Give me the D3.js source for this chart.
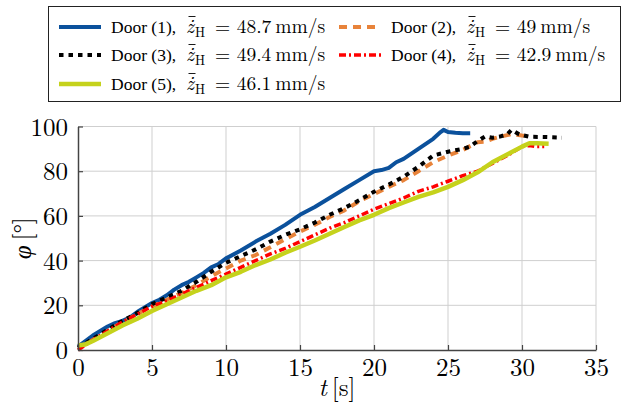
<!DOCTYPE html>
<html>
<head>
<meta charset="utf-8">
<script src="https://cdn.jsdelivr.net/npm/d3@7"></script>
<style>
  body { margin: 0; background: #fff; }
  svg { display: block; }
</style>
</head>
<body>
<svg id="chart" width="622" height="414"></svg>
<script>
// door angle phi [deg] over time t [s]
var door1_t   = [0, 0.5, 1, 1.5, 2, 2.5, 3, 3.5, 4, 4.5, 5, 5.5, 6, 6.5, 7, 7.5, 8, 8.5, 9, 9.5, 10, 11, 12, 13, 14, 15, 16, 17, 18, 19, 20, 20.5, 21, 21.5, 22, 23, 24, 24.5, 24.7, 25, 25.5, 26, 26.5];
var door1_phi = [1.5, 4, 6.5, 8.5, 10.5, 12, 13, 14.5, 17, 19, 21, 22.5, 24.5, 27, 29, 30.5, 32.5, 34.5, 37, 38.5, 41, 44.5, 48.5, 52, 56, 60.5, 64, 68, 72, 76, 80, 80.5, 81.5, 84, 85.5, 90, 94.5, 97.5, 98.5, 97.5, 97.2, 97, 97];

var door2_t   = [0, 1, 2, 3, 4, 5, 6, 7, 8, 9, 10, 11, 12, 13, 14, 15, 16, 17, 18, 19, 20, 21, 22, 23, 24, 25, 26, 27, 27.5, 28, 28.5, 29.3, 30, 30.5];
var door2_phi = [1, 4.5, 8.5, 12.5, 16, 19.5, 22.5, 25.5, 29, 33, 36.5, 40, 42.5, 46, 49.5, 53, 56, 59.5, 62.5, 66.5, 69.8, 73, 76, 80, 84, 87, 89.5, 93, 93.2, 94.5, 95.4, 96.6, 96, 95.7];

var door3_t   = [0, 1, 2, 3, 4, 5, 6, 7, 8, 9, 10, 11, 12, 13, 14, 15, 16, 17, 18, 19, 20, 21, 22, 23, 24, 25, 26, 26.5, 27, 27.5, 28, 28.5, 29, 29.3, 29.8, 30.5, 31.5, 32.7];
var door3_phi = [1, 5, 9, 13, 16.5, 20.5, 23.5, 26.5, 30.5, 35, 39, 42, 45, 48.5, 51.5, 54, 57, 60.5, 63.5, 67, 70.8, 74, 77.5, 82, 87, 88.7, 90, 91, 93.5, 95.5, 95, 95.5, 96.5, 98.5, 96.5, 95.4, 95.3, 95];

var door4_t   = [0, 1, 2, 3, 4, 5, 6, 7, 8, 9, 10, 11, 12, 13, 14, 15, 16, 17, 18, 19, 20, 21, 22, 23, 24, 25, 26, 27, 28, 29, 30, 30.5, 31, 31.5];
var door4_phi = [0, 4.5, 8.5, 12.5, 16, 19.5, 22, 25, 28, 31, 34, 37, 40, 43, 45.5, 48.5, 51.5, 54.5, 57, 60, 63, 65.5, 68, 71, 73, 75.5, 78, 80, 83.5, 87, 91, 91.5, 91, 91];

var door5_t   = [0, 0.5, 1, 2, 3, 4, 5, 6, 7, 8, 9, 10, 11, 12, 13, 14, 15, 16, 17, 18, 19, 20, 21, 22, 23, 24, 25, 26, 27, 28, 29, 30, 30.5, 31, 31.8];
var door5_phi = [2, 2.5, 4, 7.5, 11, 14, 17.5, 20.5, 23.5, 26.5, 29, 32.5, 35, 38, 40.5, 43.5, 46.2, 49, 52, 55, 58, 60.5, 63.5, 66, 68.5, 70.5, 73, 76, 79.5, 84, 87.5, 91, 92.5, 92.5, 92.3];

var door_names  = ["Door (1),", "Door (2),", "Door (3),", "Door (4),", "Door (5),"];
var door_speeds = ["48.7", "49", "49.4", "42.9", "46.1"];

var x_ticks = [0, 5, 10, 15, 20, 25, 30, 35];
var y_ticks = [0, 20, 40, 60, 80, 100];

// line styles, one per door
var styles = [
  { color: "#0b519c", width: 4,   dash: null },
  { color: "#e8833a", width: 4,   dash: "8,6" },
  { color: "#000000", width: 4,   dash: "4.5,5" },
  { color: "#ff0000", width: 3.5, dash: "7,3,2,3" },
  { color: "#c5d21c", width: 4.5, dash: null }
];

var series = [
  d3.zip(door1_t, door1_phi),
  d3.zip(door2_t, door2_phi),
  d3.zip(door3_t, door3_phi),
  d3.zip(door4_t, door4_phi),
  d3.zip(door5_t, door5_phi)
];

var MATH = "'Latin Modern Roman', 'Liberation Serif', serif";
var TEXT = "'Liberation Serif', serif";

var svg = d3.select("#chart");

// plot frame ("top" is taken by window, hence m_*)
var m_left = 78, m_right = 596, m_top = 126.5, m_bottom = 350;

var x = d3.scaleLinear().domain([0, 35]).range([m_left, m_right]);
var y = d3.scaleLinear().domain([0, 100]).range([m_bottom, m_top]);

// grid, including the light top / right border
var grid = svg.append("g");
grid.selectAll("line.vx").data(x_ticks.slice(1)).enter().append("line")
  .attr("x1", function(d) { return x(d); })
  .attr("x2", function(d) { return x(d); })
  .attr("y1", y(0)).attr("y2", y(100))
  .attr("stroke", "#cfcfcf").attr("stroke-width", 1);
grid.selectAll("line.hy").data(y_ticks.slice(1)).enter().append("line")
  .attr("x1", x(0)).attr("x2", x(35))
  .attr("y1", function(d) { return y(d); })
  .attr("y2", function(d) { return y(d); })
  .attr("stroke", "#cfcfcf").attr("stroke-width", 1);

// curves
var line = d3.line()
  .x(function(d) { return x(d[0]); })
  .y(function(d) { return y(d[1]); });

svg.append("g").selectAll("path").data(series).enter().append("path")
  .attr("d", line)
  .attr("fill", "none")
  .attr("stroke", function(d, i) { return styles[i].color; })
  .attr("stroke-width", function(d, i) { return styles[i].width; })
  .attr("stroke-dasharray", function(d, i) { return styles[i].dash; })
  .attr("stroke-linejoin", "round");

// axes, ticks pointing inwards
var xAxis = d3.axisBottom(x).tickValues(x_ticks).tickSize(-5).tickSizeOuter(0).tickPadding(11);
var yAxis = d3.axisLeft(y).tickValues(y_ticks).tickSize(-5).tickSizeOuter(0).tickPadding(10);

var gx = svg.append("g").attr("transform", "translate(0," + m_bottom + ")").call(xAxis);
var gy = svg.append("g").attr("transform", "translate(" + m_left + ",0)").call(yAxis);

[gx, gy].forEach(function(g) {
  g.attr("font-family", null).attr("font-size", null);
  g.select(".domain").attr("stroke", "#444").attr("stroke-width", 1.5);
  g.selectAll(".tick line").attr("stroke", "#444").attr("stroke-width", 1.2);
  g.selectAll(".tick text")
    .style("font-family", MATH)
    .style("font-size", "25px")
    .attr("fill", "#000");
});
gx.selectAll(".tick text").attr("y", 8).attr("dy", "0.71em");
gy.selectAll(".tick text").attr("dy", "0.34em");

// axis labels
var xl = svg.append("text").attr("x", x(17.5)).attr("y", 396)
  .attr("text-anchor", "middle")
  .style("font-family", MATH).style("font-size", "25px");
xl.append("tspan").style("font-style", "italic").text("t");
xl.append("tspan").text("\u2009[s]");

var yl = svg.append("text")
  .attr("transform", "translate(31," + y(50) + ") rotate(-90)")
  .attr("text-anchor", "middle")
  .style("font-family", MATH).style("font-size", "25px");
yl.append("tspan").style("font-style", "italic").text("φ");
yl.append("tspan").text("\u2009[°]");

// legend
var legend = svg.append("g");
legend.append("rect")
  .attr("x", 48.5).attr("y", 6.5).attr("width", 572).attr("height", 95)
  .attr("fill", "#fff").attr("stroke", "#222").attr("stroke-width", 1);

var cols = [59, 339], rows = [27, 55, 84];

var items = legend.selectAll("g.item").data(door_names).enter().append("g")
  .attr("transform", function(d, i) {
    return "translate(" + cols[i % 2] + "," + rows[Math.floor(i / 2)] + ")";
  });

items.append("line")
  .attr("x1", 0).attr("x2", 42).attr("y1", 0).attr("y2", 0)
  .attr("stroke", function(d, i) { return styles[i].color; })
  .attr("stroke-width", function(d, i) { return styles[i].width; })
  .attr("stroke-dasharray", function(d, i) { return styles[i].dash; });

// one text per entry: "Door (k)," in text font, then the math part
var tx = 52, bl = 6, zx = tx + 75;
var lt = items.append("text").attr("x", tx).attr("y", bl)
  .style("font-family", MATH).style("font-size", "19.5px");
lt.append("tspan").attr("x", tx).attr("y", bl)
  .style("font-family", TEXT).style("font-size", "17.5px")
  .text(function(d) { return d; });
lt.append("tspan").attr("x", zx).attr("y", bl).style("font-style", "italic").text("\u017C");
lt.append("tspan").attr("x", zx + 9).attr("y", bl + 3.5).style("font-size", "13.5px").text("H");
lt.append("tspan").attr("x", zx + 29).attr("y", bl).text("=");
lt.append("tspan").attr("dx", 6.5).text(function(d, i) { return door_speeds[i]; });
lt.append("tspan").attr("dx", 4).text("mm/s");

// bar over the dotted z (mean value)
items.append("line")
  .attr("x1", zx + 2.5).attr("x2", zx + 9.5)
  .attr("y1", bl - 16.5).attr("y2", bl - 16.5)
  .attr("stroke", "#000").attr("stroke-width", 0.9);
</script>
</body>
</html>
